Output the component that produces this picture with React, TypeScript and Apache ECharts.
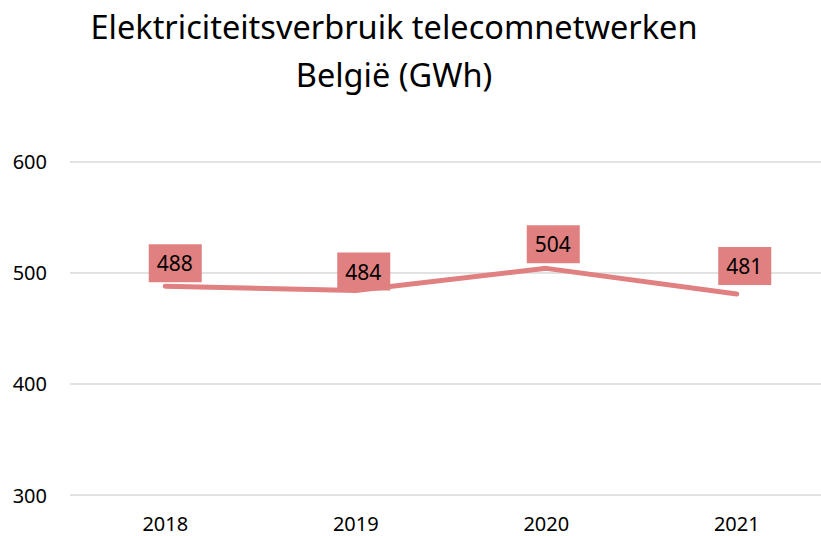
import React, { useEffect, useRef } from "react";
import * as echarts from "echarts";

const categories = ["2018", "2019", "2020", "2021"];
const values = [488, 484, 504, 481];
const yTicks = { min: 300, max: 600, interval: 100 };
const titleLines = ["Elektriciteitsverbruik telecomnetwerken", "België (GWh)"];

const labelOffsets = [
  [10, -4],
  [8, 0],
  [7, -5],
  [8, -9],
];

const FONT = "'Noto Sans', 'Open Sans', sans-serif";
const PINK = "#E08080";

export default function App() {
  const ref = useRef<HTMLDivElement>(null);
  useEffect(() => {
    if (!ref.current) return;
    const chart = echarts.init(ref.current, undefined, { renderer: "svg" });
    chart.setOption({
      animation: false,
      backgroundColor: "#ffffff",
      title: {
        text: titleLines.join("\n"),
        left: 389,
        top: -3,
        textAlign: "center",
        textStyle: {
          fontFamily: FONT,
          fontSize: 32.5,
          fontWeight: "normal",
          color: "#000",
          lineHeight: 48,
        },
      },
      grid: { left: 70, right: 0, top: 161.7, bottom: 41 },
      xAxis: {
        type: "category",
        data: categories,
        boundaryGap: true,
        axisLine: { show: false },
        axisTick: { show: false },
        axisLabel: { fontFamily: FONT, fontSize: 20, color: "#000", margin: 18 },
      },
      yAxis: {
        type: "value",
        min: yTicks.min,
        max: yTicks.max,
        interval: yTicks.interval,
        axisLine: { show: false },
        axisTick: { show: false },
        axisLabel: { fontFamily: FONT, fontSize: 20, color: "#000", margin: 23 },
        splitLine: { lineStyle: { color: "#D9D9D9", width: 1.5 } },
      },
      series: [
        {
          type: "line",
          data: values.map((v, i) => ({
            value: v,
            label: { offset: labelOffsets[i] },
          })),
          symbol: "circle",
          symbolSize: 0.01,
          showSymbol: true,
          itemStyle: { color: PINK },
          lineStyle: { color: PINK, width: 5, cap: "round", join: "round" },
          label: {
            show: true,
            position: "top",
            distance: 0,
            fontFamily: FONT,
            fontSize: 21,
            color: "#000",
            backgroundColor: PINK,
            padding: [8, 9, 8, 8],
            lineHeight: 22,
          },
        },
      ],
    });
    return () => chart.dispose();
  }, []);
  return (
    <div
      ref={ref}
      style={{ position: "fixed", left: 0, top: 0, width: 832, height: 536 }}
    />
  );
}
